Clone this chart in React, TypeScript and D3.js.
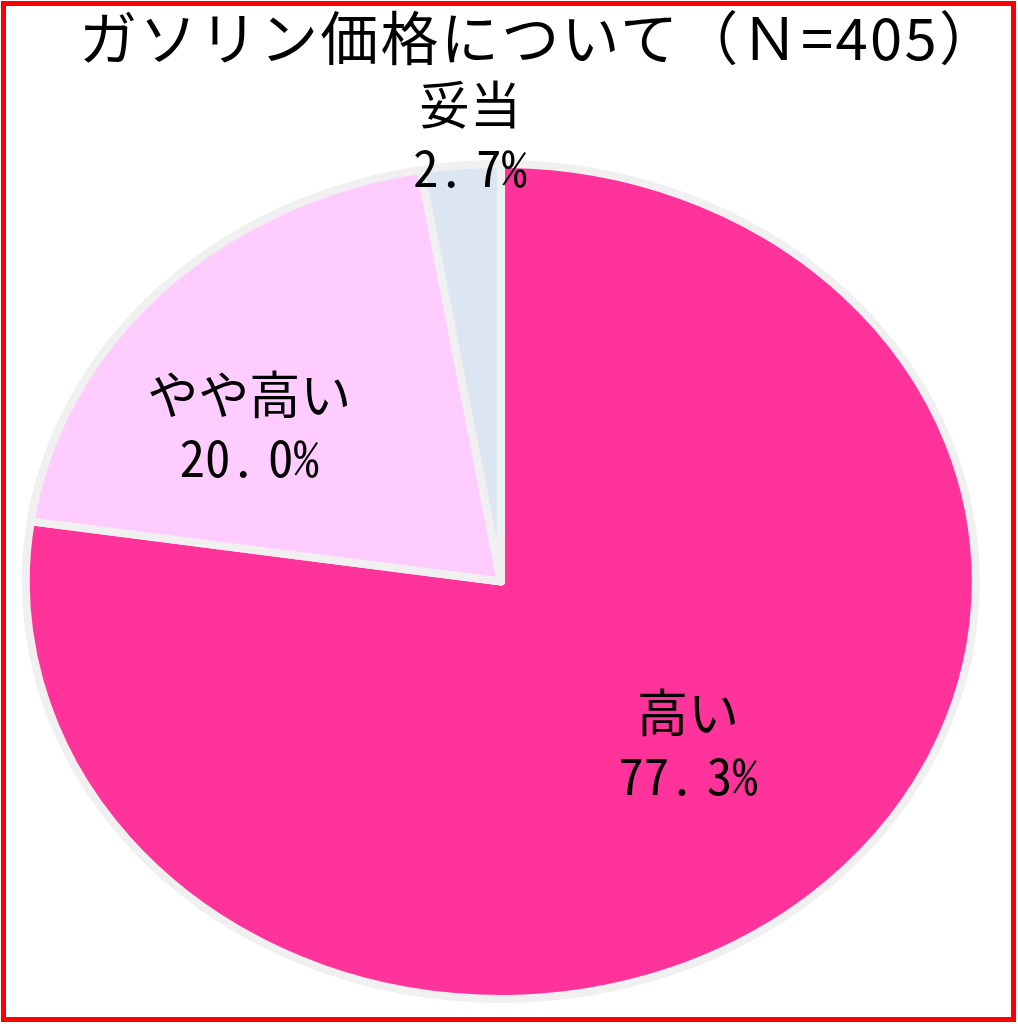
import { useEffect, useRef } from "react";
import * as d3 from "d3";

const title = "ガソリン価格について（Ｎ=405）";
const categories = ["高い", "やや高い", "妥当"];
const shares = [77.3, 20.0, 2.7];
const intParts = ["77.", "20.", "2."];
const decParts = ["3%", "0%", "7%"];
const colors = ["#FF3399", "#FFCCFF", "#DCE6F2"];

// label placement (fraction of radius, nudge in degrees) per slice
const labelRadius = [0.59, 0.62, 1.02];
const labelNudge = [-1, -13, 1.2];

const W = 1018;
const H = 1024;
const FONT = "'Noto Sans CJK JP', 'Noto Sans', sans-serif";

export default function App() {
  const svgRef = useRef<SVGSVGElement>(null);

  useEffect(() => {
    if (!svgRef.current) return;
    const svg = d3.select(svgRef.current);
    svg.selectAll("*").remove();

    svg.append("rect").attr("width", W).attr("height", H).attr("fill", "#fff");

    // red frame
    svg
      .append("rect")
      .attr("x", 3.5)
      .attr("y", 3.5)
      .attr("width", 1010)
      .attr("height", 1016)
      .attr("fill", "none")
      .attr("stroke", "#FF0000")
      .attr("stroke-width", 5);

    svg
      .append("text")
      .attr("x", 538)
      .attr("y", 60)
      .attr("text-anchor", "middle")
      .attr("font-family", FONT)
      .attr("font-size", 58)
      .attr("textLength", 918)
      .attr("lengthAdjust", "spacing")
      .attr("fill", "#000")
      .text(title);

    const cx = 501;
    const cy = 581.5;
    const rx = 475;
    const ry = 417.5;

    const pie = d3
      .pie<number>()
      .sort(null)
      .value((d) => d);
    const arcs = pie(shares);
    const arc = d3.arc<d3.PieArcDatum<number>>().innerRadius(0).outerRadius(1);

    const g = svg
      .append("g")
      .attr("transform", `translate(${cx},${cy}) scale(${rx},${ry})`);

    g.selectAll("path")
      .data(arcs)
      .join("path")
      .attr("d", arc)
      .attr("fill", (_, i) => colors[i])
      .attr("stroke", "#F0F0F0")
      .attr("stroke-width", 8)
      .attr("stroke-linejoin", "round")
      .attr("vector-effect", "non-scaling-stroke");

    const labels = svg.append("g");
    arcs.forEach((a, i) => {
      const mid = (a.startAngle + a.endAngle) / 2 + (labelNudge[i] * Math.PI) / 180;
      const r = labelRadius[i];
      const px = cx + Math.sin(mid) * r * rx;
      const py = cy - Math.cos(mid) * r * ry;
      labels
        .append("text")
        .attr("text-anchor", "middle")
        .attr("x", px)
        .attr("y", py - 33)
        .attr("font-family", FONT)
        .attr("font-size", 51)
        .attr("fill", "#000")
        .text(categories[i]);
      const p = labels
        .append("text")
        .attr("text-anchor", "middle")
        .attr("x", px)
        .attr("y", py + 30)
        .attr("font-family", FONT)
        .attr("font-size", 51)
        .attr("fill", "#000")
        .style("font-feature-settings", "'hwid'");
      p.append("tspan").text(intParts[i]);
      p.append("tspan").attr("dx", 12).text(decParts[i]);
    });
  }, []);

  return (
    <svg
      ref={svgRef}
      width={W}
      height={H}
      style={{ position: "absolute", left: 0, top: 0, display: "block" }}
    />
  );
}
